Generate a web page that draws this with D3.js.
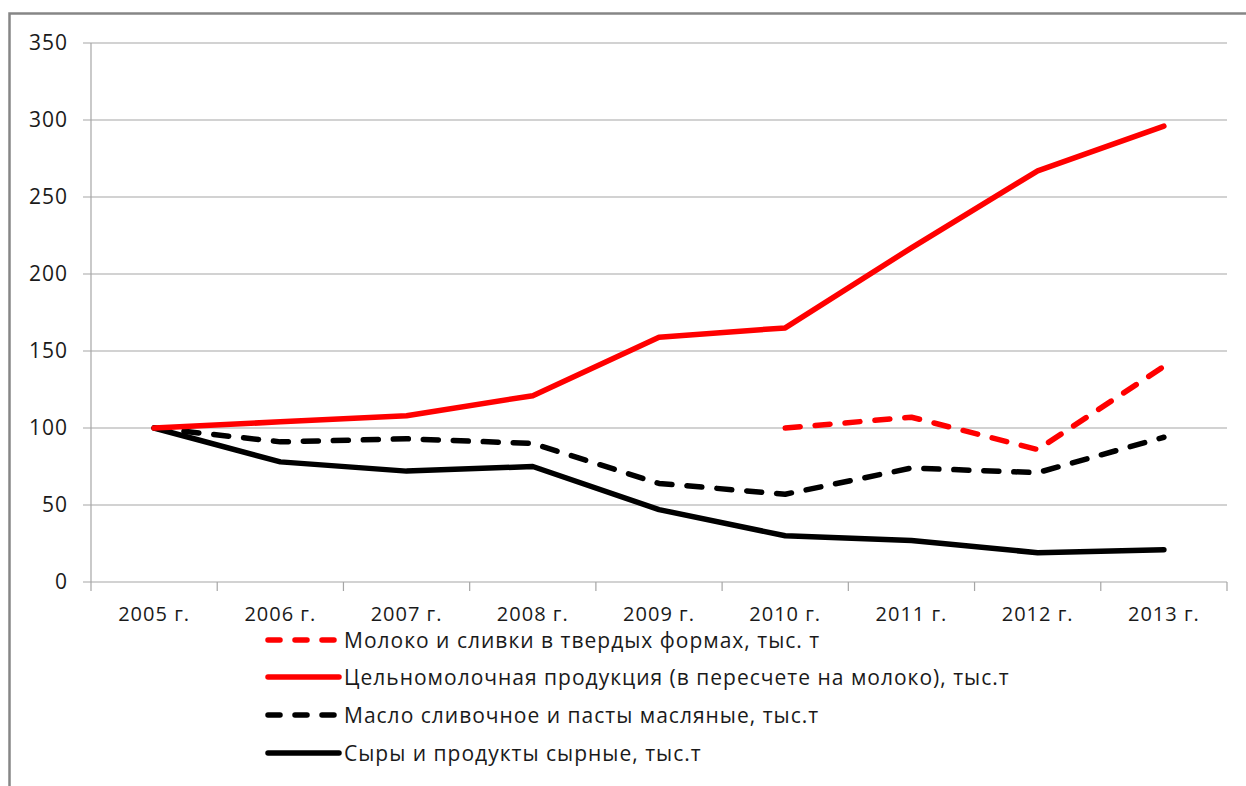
<!DOCTYPE html>
<html>
<head>
<meta charset="utf-8">
<script src="https://cdn.jsdelivr.net/npm/d3@7"></script>
<style>
body { margin: 0; background: #fff; }
svg text { font-family: "Open Sans", "DejaVu Sans", sans-serif; fill: #1a1a1a; letter-spacing: 1px; }
</style>
</head>
<body>
<div class="chart"></div>
<script>
var years = ["2005 г.", "2006 г.", "2007 г.", "2008 г.", "2009 г.", "2010 г.", "2011 г.", "2012 г.", "2013 г."];
var yTicks = [0, 50, 100, 150, 200, 250, 300, 350];

// null = no data for that year
var milkDry = [null, null, null, null, null, 100, 107, 86, 140];
var wholeMilk = [100, 104, 108, 121, 159, 165, 217, 267, 296];
var butter = [100, 91, 93, 90, 64, 57, 74, 71, 94];
var cheese = [100, 78, 72, 75, 47, 30, 27, 19, 21];

var seriesNames = [
    "Молоко и сливки в твердых формах,  тыс. т",
    "Цельномолочная продукция (в пересчете на молоко), тыс.т",
    "Масло сливочное и пасты масляные, тыс.т",
    "Сыры и продукты сырные, тыс.т"
];
var seriesColors = ["#ff0000", "#ff0000", "#000000", "#000000"];
var seriesDashed = [true, false, true, false];

var w_chart = 1246, h_chart = 786;
var plotLeft = 91, plotRight = 1227, plotTop = 43, plotBottom = 582;

var svg = d3.select(".chart").append("svg")
    .attr("width", w_chart)
    .attr("height", h_chart);

svg.append("rect") // outer frame, runs off the right and bottom edge
    .attr("x", 9.5).attr("y", 13.5)
    .attr("width", 1260).attr("height", 800)
    .attr("fill", "none")
    .attr("stroke", "#868686")
    .attr("stroke-width", 2.5);

var xScale = d3.scaleBand().domain(years).range([plotLeft, plotRight]);
var yScale = d3.scaleLinear().domain([0, 350]).range([plotBottom, plotTop]);

// gridlines + y labels
svg.append("g")
    .selectAll("line")
    .data(yTicks)
    .enter()
    .append("line")
    .attr("x1", plotLeft - 8)
    .attr("x2", plotRight)
    .attr("y1", d => yScale(d))
    .attr("y2", d => yScale(d))
    .attr("stroke", "#a6a6a6")
    .attr("stroke-width", 1.2);

svg.append("g")
    .selectAll("text")
    .data(yTicks)
    .enter()
    .append("text")
    .attr("x", 68)
    .attr("y", d => yScale(d) + 7)
    .attr("text-anchor", "end")
    .attr("font-size", 21)
    .text(d => d);

svg.append("line") // y axis
    .attr("x1", plotLeft).attr("x2", plotLeft)
    .attr("y1", plotTop).attr("y2", plotBottom)
    .attr("stroke", "#a6a6a6").attr("stroke-width", 1.2);

// x ticks at band edges
var edges = years.map(d => xScale(d)).concat([plotRight]);
svg.append("g")
    .selectAll("line")
    .data(edges)
    .enter()
    .append("line")
    .attr("x1", d => d).attr("x2", d => d)
    .attr("y1", plotBottom).attr("y2", plotBottom + 9)
    .attr("stroke", "#a6a6a6").attr("stroke-width", 1.2);

svg.append("g")
    .selectAll("text")
    .data(years)
    .enter()
    .append("text")
    .attr("x", d => xScale(d) + xScale.bandwidth() / 2)
    .attr("y", 621)
    .attr("text-anchor", "middle")
    .attr("font-size", 20)
    .attr("letter-spacing", 1.3)
    .text(d => d);

// lines
var line = d3.line()
    .defined(d => d.v != null)
    .x(d => xScale(d.year) + xScale.bandwidth() / 2)
    .y(d => yScale(d.v));

var allSeries = [milkDry, wholeMilk, butter, cheese];
var drawOrder = [3, 2, 1, 0];
drawOrder.forEach(function(k) {
    var pts = allSeries[k].map((v, i) => ({ year: years[i], v: v }));
    svg.append("path")
        .attr("d", line(pts))
        .attr("fill", "none")
        .attr("stroke", seriesColors[k])
        .attr("stroke-width", 5.5)
        .attr("stroke-linecap", "round")
        .attr("stroke-linejoin", "round")
        .attr("stroke-dasharray", seriesDashed[k] ? "15,15" : null);
});

// legend
var legY = [640, 677, 715, 753];
seriesNames.forEach(function(name, k) {
    svg.append("line")
        .attr("x1", 268).attr("x2", 339)
        .attr("y1", legY[k]).attr("y2", legY[k])
        .attr("stroke", seriesColors[k])
        .attr("stroke-width", 5.5)
        .attr("stroke-linecap", "round")
        .attr("stroke-dasharray", seriesDashed[k] ? "12,15" : null);
    svg.append("text")
        .attr("x", 344)
        .attr("y", legY[k] + 8)
        .attr("font-size", 21)
        .text(name);
});
</script>
</body>
</html>
